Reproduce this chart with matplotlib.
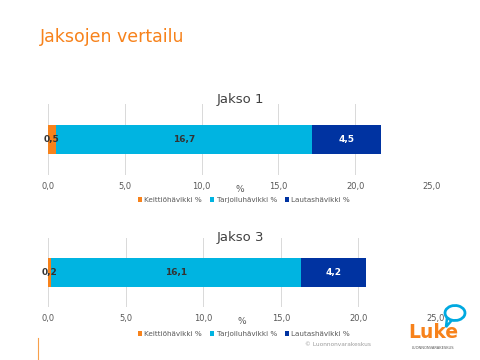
import matplotlib
matplotlib.use("Agg")
import matplotlib.pyplot as plt
from matplotlib.patches import Ellipse, Polygon

series = ["Keittiöhävikki %", "Tarjoiluhävikki %", "Lautashävikki %"]
colors = ["#F7821B", "#00B4E1", "#0033A1"]
label_colors = ["#333333", "#333333", "white"]
jakso1 = [0.5, 16.7, 4.5]
jakso3 = [0.2, 16.1, 4.2]
titles = ["Jakso 1", "Jakso 3"]
ticks = [0, 5, 10, 15, 20, 25]
tick_labels = ["0,0", "5,0", "10,0", "15,0", "20,0", "25,0"]

W, H = 480, 360
fig = plt.figure(figsize=(4.8, 3.6), dpi=100)
fig.patch.set_facecolor("white")

def px_axes(x0, y0, x1, y1):
    return fig.add_axes([x0 / W, 1 - y1 / H, (x1 - x0) / W, (y1 - y0) / H])

fig.text(40 / W, 1 - 37 / H, "Jaksojen vertailu", color="#F7821B",
         fontsize=12.5, va="center", ha="left")

layouts = [(48, 104, 432, 175, 100, 200), (48, 238, 436, 307, 237, 334)]
for data, title, (x0, y0, x1, y1, ty, ly) in zip([jakso1, jakso3], titles, layouts):
    ax = px_axes(x0, y0, x1, y1)
    ax.set_xlim(0, 25)
    ax.set_ylim(-1, 1)
    left = 0
    handles = []
    for v, c, lc, name in zip(data, colors, label_colors, series):
        h = ax.barh(0, v, left=left, height=0.82, color=c, label=name, zorder=3)
        handles.append(h)
        ax.text(left + v / 2, 0, f"{v:.1f}".replace(".", ","), ha="center",
                va="center", color=lc, fontsize=6.5, fontweight="bold", zorder=4)
        left += v
    ax.set_xticks(ticks)
    ax.set_xticklabels(tick_labels)
    ax.tick_params(axis="x", length=0, labelsize=6, labelcolor="#595959", pad=5)
    ax.set_yticks([])
    ax.grid(axis="x", color="#D9D9D9", linewidth=0.7, zorder=0)
    for s in ax.spines.values():
        s.set_visible(False)
    ax.set_xlabel("%", fontsize=6.5, color="#595959", labelpad=-4)
    fig.text(240 / W, 1 - ty / H, title, ha="center", va="center",
             fontsize=9.5, color="#404040")
    fig.legend(handles=handles, loc="center", bbox_to_anchor=(244 / W, 1 - ly / H),
               ncol=3, frameon=False, fontsize=5.2, handlelength=0.6,
               handleheight=0.6, handletextpad=0.3, columnspacing=1.1,
               labelcolor="#595959")

# footer decorations
fig.add_artist(plt.Line2D([38 / W, 38 / W], [0, 22 / H], color="#F7A04B", lw=0.8))
fig.text(338 / W, 1 - 344 / H, "© Luonnonvarakeskus", fontsize=4.2,
         color="#9C9C9C", ha="center", va="center")
fig.text(433 / W, 1 - 333 / H, "Luke", fontsize=13.5, fontweight="bold",
         color="#F7821B", ha="center", va="center")
fig.text(433 / W, 1 - 348 / H, "LUONNONVARAKESKUS", fontsize=2.6, color="#555555",
         ha="center", va="center")
fig.add_artist(Polygon([(447 / W, 1 - 318 / H), (446 / W, 1 - 327 / H),
                        (452 / W, 1 - 320 / H)], closed=True, fill=False,
                       ec="#00A9E0", lw=1.8, transform=fig.transFigure))
fig.add_artist(Ellipse((455 / W, 1 - 313 / H), 20 / W, 15 / H, angle=25,
                       fc="white", ec="#00A9E0", lw=2.0, transform=fig.transFigure))

fig.savefig("out.png", dpi=100, facecolor="white")
